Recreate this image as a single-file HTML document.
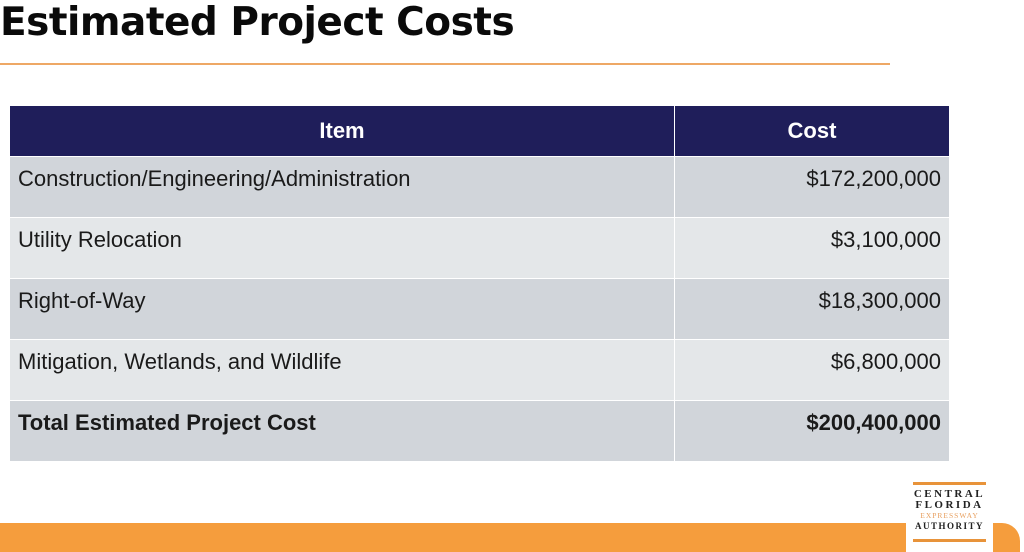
<!DOCTYPE html>
<html><head><style>
body{margin:0;width:1024px;height:552px;overflow:hidden;background:#fff;position:relative;font-family:"Liberation Sans",sans-serif;}
.title{position:absolute;left:0;top:0px;font-size:39px;font-weight:bold;color:#0a0a0a;font-family:"DejaVu Sans","Liberation Sans",sans-serif;letter-spacing:-0.5px;}
.rule{position:absolute;left:0;top:63px;width:890px;height:2px;background:#eea865;}
table{position:absolute;left:9px;top:105px;width:941px;border-collapse:collapse;}
td,th{font-size:22px;color:#1a1a1a;border:1px solid #fff;padding:0 8px;}
th{background:#1f1e5a;color:#fff;height:50px;font-weight:bold;}
td{height:61px;vertical-align:top;padding-top:9px;box-sizing:border-box;}
tr.a td{background:#d1d5da;}
tr.b td{background:#e4e7e9;}
td.c{text-align:right;}
.band{position:absolute;left:0;top:523px;width:1020px;height:29px;background:#f59d3d;border-top-right-radius:18px;}
.logo{position:absolute;left:906px;top:478px;width:87px;height:74px;background:#fff;font-family:"Liberation Serif",serif;text-align:center;}
.logo .bar{position:absolute;left:7px;width:73px;height:3px;background:#e8933a;}
.logo div.t{font-size:11px;font-weight:bold;letter-spacing:2.5px;line-height:11px;color:#222;}
</style></head><body>
<div class="title">Estimated Project Costs</div>
<div class="rule"></div>
<table>
<tr><th style="width:648px">Item</th><th>Cost</th></tr>
<tr class="a"><td>Construction/Engineering/Administration</td><td class="c">$172,200,000</td></tr>
<tr class="b"><td>Utility Relocation</td><td class="c">$3,100,000</td></tr>
<tr class="a"><td>Right-of-Way</td><td class="c">$18,300,000</td></tr>
<tr class="b"><td>Mitigation, Wetlands, and Wildlife</td><td class="c">$6,800,000</td></tr>
<tr class="a"><td><b>Total Estimated Project Cost</b></td><td class="c"><b>$200,400,000</b></td></tr>
</table>
<div class="band"></div>
<div class="logo">
<div class="bar" style="top:4px"></div>
<div style="position:absolute;top:11px;left:0;width:87px">
<div class="t">CENTRAL</div><div class="t">FLORIDA</div>
<div class="t" style="font-size:7.5px;color:#e8a060;letter-spacing:1px;font-weight:normal;line-height:10px">EXPRESSWAY</div>
<div class="t" style="font-size:9px;letter-spacing:1.5px">AUTHORITY</div></div>
<div class="bar" style="top:61px"></div>
</div>
</body></html>
